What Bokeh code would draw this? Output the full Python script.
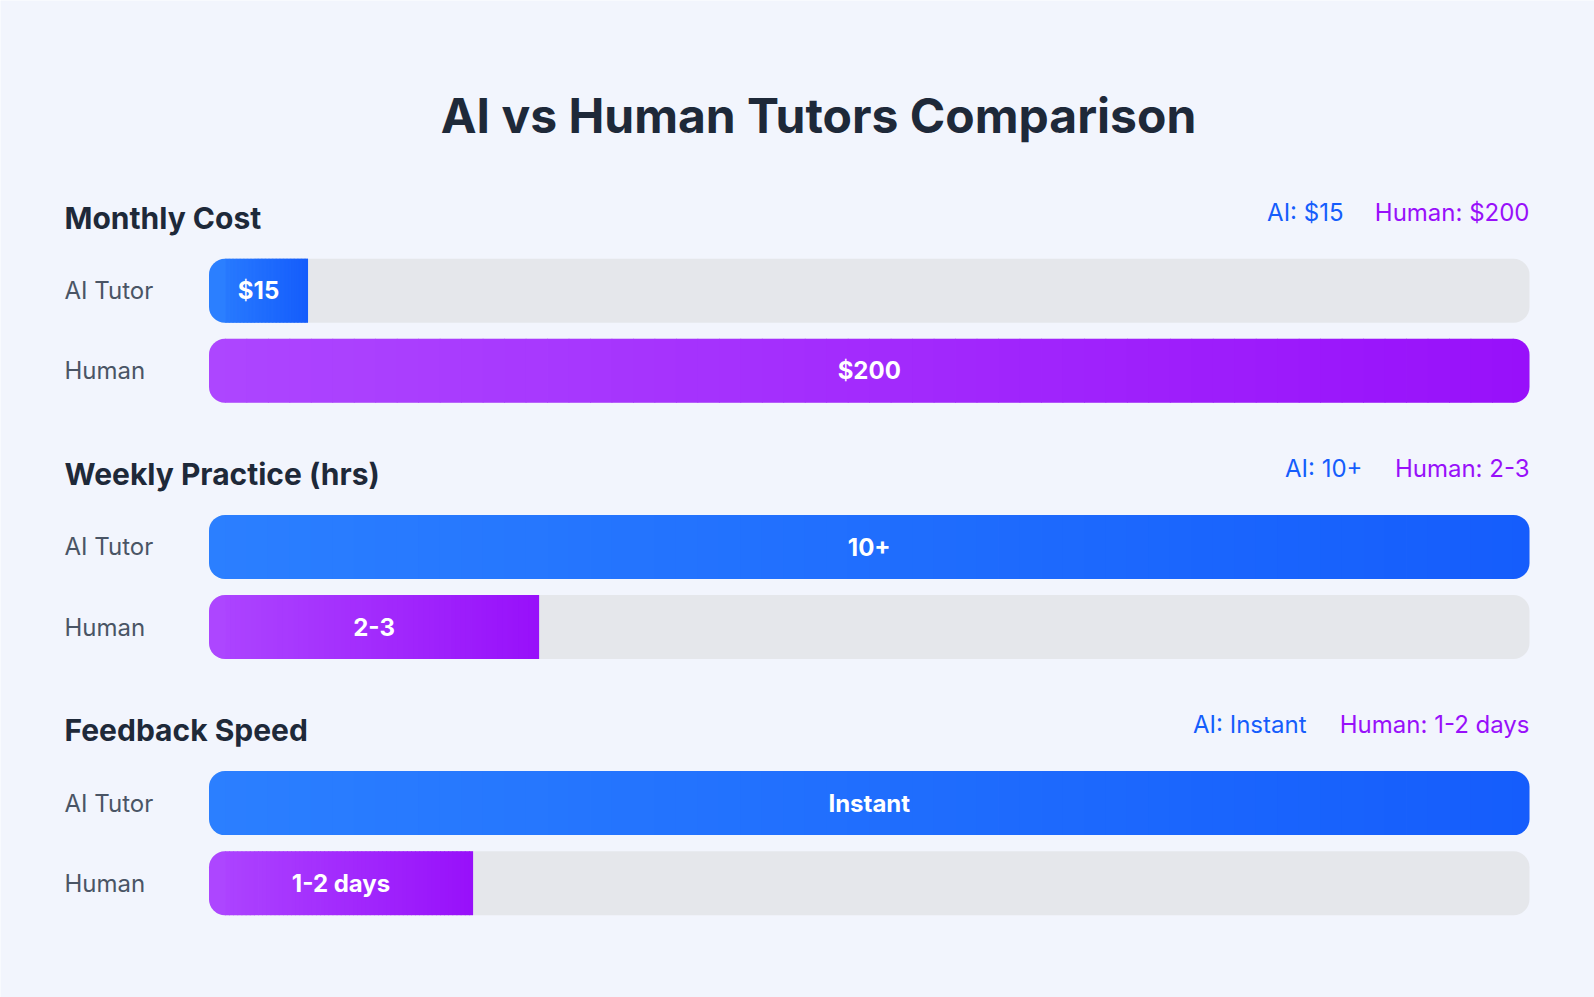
import numpy as np
from bokeh.plotting import figure
from bokeh.models import ColumnDataSource, Range1d
from bokeh.core.properties import value
from bokeh.embed import file_html
from bokeh.resources import INLINE

# ---------------- data ----------------
title = "AI vs Human Tutors Comparison"
metrics = ["Monthly Cost", "Weekly Practice (hrs)", "Feedback Speed"]
row_labels = ["AI Tutor", "Human"]
ai_values = [15, 10, 100]
human_values = [200, 2.5, 20]
scale_max = [200, 10, 100]
ai_text = ["$15", "10+", "Instant"]
human_text = ["$200", "2-3", "1-2 days"]
ai_legend = ["AI: $15", "AI: 10+", "AI: Instant"]
human_legend = ["Human: $200", "Human: 2-3", "Human: 1-2 days"]

# ---------------- layout / style ----------------
W, H = 1594, 997
BAR_L, BAR_R = 208.5, 1529.0
PX = (BAR_R - BAR_L) / 100.0          # pixels per percent
BAR_H = 64
RAD = 16
SEC_Y0, SEC_PITCH = 217.5, 256.2
ROW_OFF = [72.7, 152.8]
LEGEND_AI_GAP = [186, 167, 223]       # px from right edge to AI legend's right edge
FONT = value("Inter")
DARK = "#1e2939"
GRAY = "#4a5565"
BLUE_L, BLUE_R = (43, 127, 255), (21, 93, 252)
PURP_L, PURP_R = (173, 70, 255), (152, 16, 250)
TRACK = "#e5e7eb"
BG = "#f2f5fd"


def px2x(px):
    return (px - BAR_L) / PX


p = figure(width=W, height=H, output_backend="svg", toolbar_location=None,
           x_range=Range1d(px2x(0), px2x(W)), y_range=Range1d(H, 0),
           x_axis_location=None, y_axis_location=None, min_border=0)
p.grid.visible = False
p.outline_line_color = None
p.background_fill_color = BG
p.border_fill_color = BG

r_pct = RAD / PX


def hexc(c):
    return "#%02x%02x%02x" % tuple(int(round(v)) for v in c)


def lerp(a, b, t):
    return tuple(a[i] + (b[i] - a[i]) * t for i in range(3))


track = dict(y=[], left=[], right=[])
lcap = dict(y=[], left=[], right=[], color=[])
rcap = dict(y=[], left=[], right=[], color=[])
mid = dict(y=[], left=[], right=[], color=[])
lab = dict(x=[], y=[], text=[])
rowl = dict(x=[], y=[], text=[])


def add_bar(y, pct, cl, cr, text):
    track["y"].append(y); track["left"].append(0); track["right"].append(100)
    full = pct >= 99.999
    lcap["y"].append(y); lcap["left"].append(0); lcap["right"].append(r_pct + 0.05)
    lcap["color"].append(hexc(cl))
    end = pct - r_pct if full else pct
    if full:
        rcap["y"].append(y); rcap["left"].append(pct - r_pct - 0.05); rcap["right"].append(pct)
        rcap["color"].append(hexc(cr))
    n = 60
    edges = np.linspace(r_pct, end, n + 1)
    for i in range(n):
        a, b = edges[i], edges[i + 1]
        t = ((a + b) / 2) / pct
        mid["y"].append(y); mid["left"].append(a)
        mid["right"].append(b + (0.06 if i < n - 1 else 0.0))
        mid["color"].append(hexc(lerp(cl, cr, t)))
    lab["x"].append(pct / 2); lab["y"].append(y); lab["text"].append(text)


sec_titles = dict(x=[], y=[], text=[])
leg_ai = dict(x=[], y=[], text=[])
leg_h = dict(x=[], y=[], text=[])

for i, m in enumerate(metrics):
    ty = SEC_Y0 + i * SEC_PITCH
    sec_titles["x"].append(px2x(64)); sec_titles["y"].append(ty); sec_titles["text"].append(m)
    leg_h["x"].append(100); leg_h["y"].append(ty - 6); leg_h["text"].append(human_legend[i])
    leg_ai["x"].append(px2x(BAR_R - LEGEND_AI_GAP[i])); leg_ai["y"].append(ty - 6)
    leg_ai["text"].append(ai_legend[i])
    ya, yh = ty + ROW_OFF[0], ty + ROW_OFF[1]
    for yy, name in zip((ya, yh), row_labels):
        rowl["x"].append(px2x(64)); rowl["y"].append(yy); rowl["text"].append(name)
    add_bar(ya, ai_values[i] / scale_max[i] * 100, BLUE_L, BLUE_R, ai_text[i])
    add_bar(yh, human_values[i] / scale_max[i] * 100, PURP_L, PURP_R, human_text[i])

p.hbar(y="y", left="left", right="right", height=BAR_H, source=ColumnDataSource(track),
       fill_color=TRACK, line_color=None, border_radius=RAD)
p.hbar(y="y", left="left", right="right", height=BAR_H, source=ColumnDataSource(mid),
       fill_color="color", line_color=None)
p.hbar(y="y", left="left", right="right", height=BAR_H, source=ColumnDataSource(lcap),
       fill_color="color", line_color=None, border_radius=(RAD, 0, 0, RAD))
p.hbar(y="y", left="left", right="right", height=BAR_H, source=ColumnDataSource(rcap),
       fill_color="color", line_color=None, border_radius=(0, RAD, RAD, 0))

p.text(x="x", y="y", text="text", source=ColumnDataSource(lab), text_font=FONT,
       text_font_size="24px", text_font_style="bold", text_color="white",
       text_align="center", text_baseline="middle")
p.text(x="x", y="y", text="text", source=ColumnDataSource(rowl), text_font=FONT,
       text_font_size="24px", text_color=GRAY, text_align="left", text_baseline="middle")
p.text(x="x", y="y", text="text", source=ColumnDataSource(sec_titles), text_font=FONT,
       text_font_size="30px", text_font_style="bold", text_color=DARK,
       text_align="left", text_baseline="middle")
p.text(x="x", y="y", text="text", source=ColumnDataSource(leg_ai), text_font=FONT,
       text_font_size="24px", text_color="#155dfc", text_align="right", text_baseline="middle")
p.text(x="x", y="y", text="text", source=ColumnDataSource(leg_h), text_font=FONT,
       text_font_size="24px", text_color="#9810fa", text_align="right", text_baseline="middle")
p.text(x=[px2x(818)], y=[115], text=[title], text_font=FONT, text_font_size="48px",
       text_font_style="bold", text_color=DARK, text_align="center", text_baseline="middle")

open("out.html", "w").write(file_html(p, INLINE))
